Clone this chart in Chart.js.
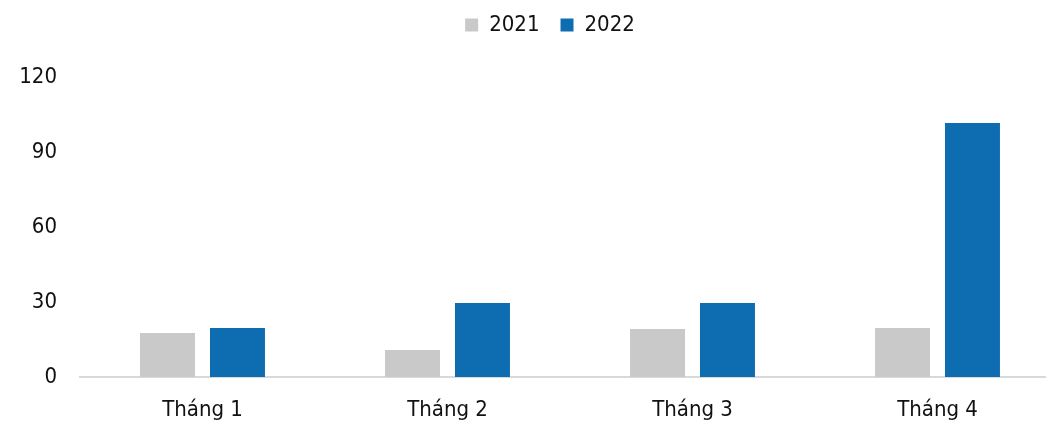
<!DOCTYPE html>
<html>
<head>
<meta charset="utf-8">
<script src="https://cdn.jsdelivr.net/npm/chart.js@4/dist/chart.umd.min.js"></script>
<style>
    html, body { margin: 0; padding: 0; background: #ffffff; overflow: hidden; }
    #wrap { position: relative; width: 1100px; height: 421px; }
</style>
</head>
<body>
<div id="wrap"><canvas id="month-chart"></canvas></div>
<script>
// Chart data
const categories = ['Tháng 1', 'Tháng 2', 'Tháng 3', 'Tháng 4'];
const seriesNames = ['2021', '2022'];
const values2021 = [17.6, 10.8, 19.2, 19.6];
const values2022 = [19.6, 29.6, 29.6, 101.6];
const yTicks = [0, 30, 60, 90, 120];

// Color settings
const chartColors = {
    grey: '#c9c9c9',
    blue: '#0e6cb1',
    axis: '#d9d9d9',
    text: '#111111'
};

const fontFamily = "'DejaVu Sans Condensed', 'DejaVu Sans', sans-serif";

// Extra room under the legend, then nudge the legend into place
const legendSpacer = {
    id: 'legendSpacer',
    beforeInit(chart) {
        const fit = chart.legend.fit;
        chart.legend.fit = function () {
            fit.bind(chart.legend)();
            this.height += 24;
        };
    },
    afterLayout(chart) {
        const legend = chart.legend;
        legend.top -= 7;
        legend.bottom -= 7;
        legend.left += 20;
        legend.right += 20;
    }
};

document.addEventListener('DOMContentLoaded', () => {
    const ctx = document.getElementById('month-chart');

    new Chart(ctx, {
        type: 'bar',
        data: {
            labels: categories,
            datasets: [{
                label: seriesNames[0],
                data: values2021,
                backgroundColor: chartColors.grey,
                borderWidth: 0,
                barPercentage: 0.786,
                categoryPercentage: 0.571
            }, {
                label: seriesNames[1],
                data: values2022,
                backgroundColor: chartColors.blue,
                borderWidth: 0,
                barPercentage: 0.786,
                categoryPercentage: 0.571
            }]
        },
        options: {
            responsive: true,
            maintainAspectRatio: false,
            animation: false,
            layout: {
                padding: { top: 0, left: 0, right: 40, bottom: 0 }
            },
            plugins: {
                legend: {
                    position: 'top',
                    labels: {
                        boxWidth: 13,
                        boxHeight: 13,
                        padding: 21,
                        color: chartColors.text,
                        font: { family: fontFamily, size: 22 }
                    }
                },
                tooltip: { enabled: false }
            },
            scales: {
                x: {
                    afterFit: function (scale) {
                        scale.height = 44;
                    },
                    grid: { display: false, drawTicks: false },
                    border: { display: true, color: chartColors.axis, width: 2 },
                    ticks: {
                        padding: 22,
                        maxRotation: 0,
                        color: chartColors.text,
                        font: { family: fontFamily, size: 22, lineHeight: 1 }
                    }
                },
                y: {
                    min: yTicks[0],
                    max: yTicks[yTicks.length - 1],
                    afterFit: function (scale) {
                        scale.width = 80;
                    },
                    afterBuildTicks: function (scale) {
                        scale.ticks = yTicks.map(v => ({ value: v }));
                    },
                    grid: { display: false, drawTicks: false },
                    border: { display: false },
                    ticks: {
                        padding: 23,
                        color: chartColors.text,
                        font: { family: fontFamily, size: 22, lineHeight: 1 }
                    }
                }
            }
        },
        plugins: [legendSpacer]
    });
});
</script>
</body>
</html>
